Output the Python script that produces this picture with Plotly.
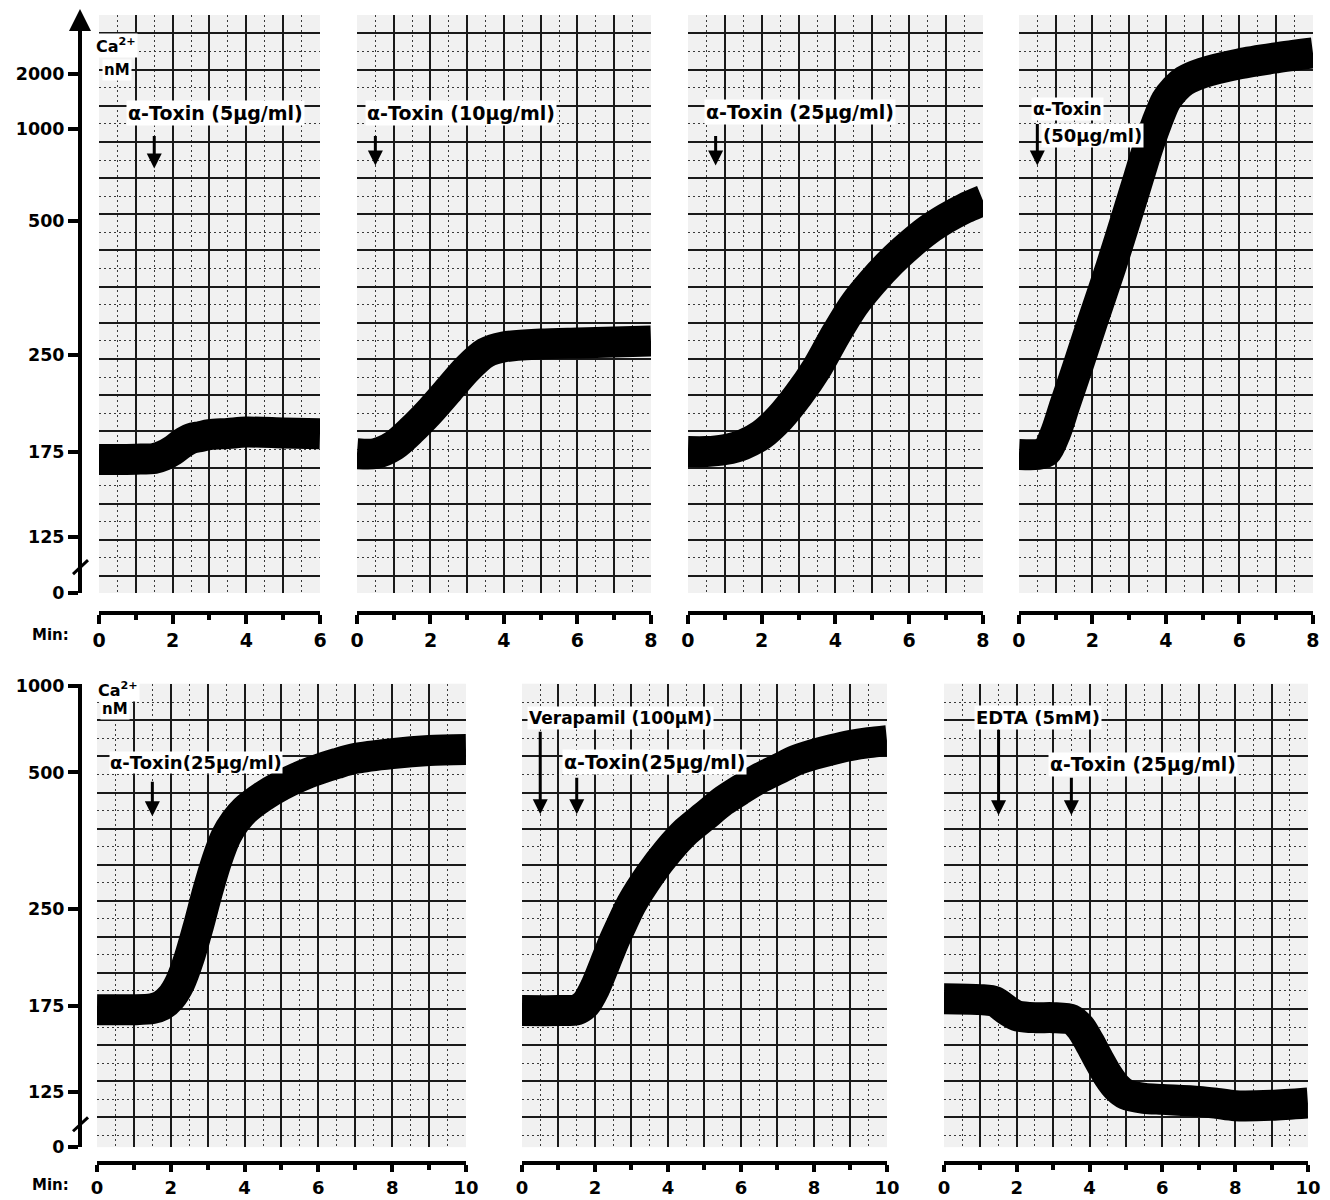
import plotly.graph_objects as go

W, H = 1330, 1200
# the page is photographed with a small white border; positions below are given in
# reference-picture pixels and converted to paper fractions here
OFF_X, OFF_Y, SX, SY = 7.0, 7.0, 0.985, 0.9883

def px(x):
    return ((x - OFF_X) / SX) / W

def py(y):
    return 1 - ((y - OFF_Y) / SY) / H

# ---------------- data (y = chart divisions above the Ca2+ = 0 baseline) ----------------
ca_labels_top = ["0", "125", "175", "250", "500", "1000", "2000"]
ca_div_top = [0, 3.09, 7.82, 13.17, 20.55, 25.67, 28.71]
ca_labels_bot = ["0", "125", "175", "250", "500", "1000"]
ca_div_bot = [0, 3.04, 7.85, 13.2, 20.77, 25.58]

p1_t = [0, 0.5, 1, 1.5, 1.75, 2, 2.25, 2.5, 2.75, 3, 3.5, 4, 5, 6]
p1_y = [7.38, 7.38, 7.40, 7.44, 7.60, 7.88, 8.26, 8.54, 8.65, 8.76, 8.82, 8.90, 8.85, 8.80]

p2_t = [0, 0.5, 1, 1.5, 2, 2.5, 3, 3.5, 4, 5, 6, 7, 8]
p2_y = [7.71, 7.71, 8.15, 9.04, 10.08, 11.24, 12.40, 13.28, 13.61, 13.77, 13.83, 13.88, 13.94]

p3_t = [0, 0.5, 1, 1.5, 2, 2.5, 3, 3.5, 4, 4.5, 5, 5.5, 6, 6.5, 7, 7.5, 8]
p3_y = [7.82, 7.82, 7.93, 8.21, 8.76, 9.70, 10.96, 12.45, 14.27, 15.92, 17.19, 18.29,
        19.23, 20.06, 20.72, 21.27, 21.71]

p4_t = [0, 0.5, 0.75, 1, 1.25, 1.5, 1.75, 2, 2.5, 3, 3.25, 3.5, 3.75, 4, 4.25, 4.5, 5, 6, 7, 8]
p4_y = [7.66, 7.66, 7.82, 8.87, 10.41, 11.90, 13.44, 14.99, 18.02, 21.27, 22.92, 24.57,
        26.01, 27.22, 27.88, 28.32, 28.76, 29.26, 29.59, 29.86]

p5_t = [0, 1, 1.5, 1.75, 2, 2.25, 2.5, 2.75, 3, 3.25, 3.5, 3.75, 4, 4.5, 5, 5.5, 6, 6.5, 7, 8, 9, 10]
p5_y = [7.62, 7.62, 7.68, 7.85, 8.29, 9.12, 10.50, 12.27, 14.20, 15.91, 17.24, 18.07,
        18.67, 19.45, 20.06, 20.55, 20.94, 21.27, 21.55, 21.82, 21.99, 22.04]

p6_t = [0, 1, 1.5, 1.75, 2, 2.25, 2.5, 2.75, 3, 3.5, 4, 4.5, 5, 5.5, 6, 6.5, 7, 7.5, 8, 8.5, 9, 9.5, 10]
p6_y = [7.57, 7.57, 7.62, 7.96, 8.84, 10.06, 11.33, 12.43, 13.48, 15.08, 16.41, 17.51,
        18.34, 19.17, 19.83, 20.44, 20.94, 21.44, 21.77, 22.04, 22.27, 22.43, 22.54]

p7_t = [0, 1, 1.4, 1.75, 2, 2.5, 3, 3.5, 3.75, 4, 4.25, 4.5, 4.75, 5, 5.5, 6, 7, 7.5, 8, 9, 10]
p7_y = [8.23, 8.18, 8.07, 7.57, 7.29, 7.18, 7.18, 7.07, 6.63, 5.80, 4.86, 3.98, 3.31,
        2.93, 2.71, 2.65, 2.54, 2.43, 2.30, 2.32, 2.45]

# additions (minutes)
p1_add = [1.5]
p2_add = [0.5]
p3_add = [0.75]
p4_add = [0.5]
p5_add = [1.5]
p6_add = [0.5, 1.5]
p7_add = [1.5, 3.5]

# ---------------- layout geometry (reference pixels) ----------------
rows = [
    dict(top=14, bottom=594, rng=31.96, grid0=0.94, xline=614, yline=80, ticklen=9,
         tfs=19, tickvals=ca_div_top, ticktext=ca_labels_top),
    dict(top=685, bottom=1150, rng=25.69, grid0=1.66, xline=1166, yline=80, ticklen=7,
         tfs=18, tickvals=ca_div_bot, ticktext=ca_labels_bot),
]

panels = [
    dict(t=p1_t, y=p1_y, l=99, r=320, xmax=6, row=0),
    dict(t=p2_t, y=p2_y, l=357, r=651, xmax=8, row=0),
    dict(t=p3_t, y=p3_y, l=688, r=983, xmax=8, row=0),
    dict(t=p4_t, y=p4_y, l=1019, r=1313, xmax=8, row=0),
    dict(t=p5_t, y=p5_y, l=97, r=466, xmax=10, row=1),
    dict(t=p6_t, y=p6_y, l=522, r=887, xmax=10, row=1),
    dict(t=p7_t, y=p7_y, l=944, r=1308, xmax=10, row=1),
]

FONT = "DejaVu Sans"
GRID = "#1a1a1a"
GRID2 = "#3a3a3a"

fig = go.Figure()
layout = dict(width=W, height=H, margin=dict(l=0, r=0, t=0, b=0),
              paper_bgcolor="white", plot_bgcolor="#f1f1f1", showlegend=False)

def ax_name(prefix, i):
    return prefix if i == 1 else f"{prefix}{i}"

def ref(prefix, i):
    return prefix[0] if i == 1 else f"{prefix[0]}{i}"

n = len(panels)
for k, p in enumerate(panels):
    i = k + 1
    row = rows[p["row"]]
    xd = [px(p["l"]), px(p["r"])]
    yd = [py(row["bottom"]), py(row["top"])]
    layout[ax_name("xaxis", i)] = dict(
        domain=xd, range=[0, p["xmax"]], anchor=ref("y", i),
        showgrid=True, gridcolor=GRID, gridwidth=1.6, tick0=0, dtick=1,
        minor=dict(tick0=0, dtick=0.5, showgrid=True, gridcolor=GRID2,
                   gridwidth=1, griddash="2px,3px"),
        showticklabels=False, ticks="", zeroline=False, showline=False, fixedrange=True)
    layout[ax_name("yaxis", i)] = dict(
        domain=yd, range=[0, row["rng"]], anchor=ref("x", i),
        showgrid=True, gridcolor=GRID, gridwidth=1.6, tick0=row["grid0"], dtick=2,
        minor=dict(tick0=row["grid0"], dtick=1, showgrid=True, gridcolor=GRID2,
                   gridwidth=1, griddash="2px,3px"),
        showticklabels=False, ticks="", zeroline=False, showline=False, fixedrange=True)
    fig.add_trace(go.Scatter(
        x=p["t"], y=p["y"], mode="lines", xaxis=ref("x", i), yaxis=ref("y", i),
        line=dict(color="black", width=31, shape="spline", smoothing=0.8),
        hoverinfo="skip"))
    j = n + i
    layout[ax_name("xaxis", j)] = dict(
        overlaying=ref("x", i), anchor="free", position=py(row["xline"]),
        range=[0, p["xmax"]], tickmode="linear", tick0=0, dtick=2,
        ticks="outside", ticklen=row["ticklen"], tickwidth=4, tickcolor="black",
        showline=True, linewidth=4, linecolor="black", showgrid=False, zeroline=False,
        minor=dict(tick0=0, dtick=1, ticks="outside", ticklen=5, tickwidth=4,
                   tickcolor="black", showgrid=False),
        tickfont=dict(family=FONT, size=row["tfs"], color="black", weight="bold"),
        fixedrange=True)
    fig.add_trace(go.Scatter(x=[None], y=[None], xaxis=ref("x", j), yaxis=ref("y", i),
                             hoverinfo="skip", showlegend=False))

for r_idx, (row, main) in enumerate(zip(rows, [1, 5])):
    j = 2 * n + 1 + r_idx
    layout[ax_name("yaxis", j)] = dict(
        overlaying=ref("y", main), anchor="free", position=px(row["yline"]), side="left",
        range=[0, row["rng"]], tickmode="array", tickvals=row["tickvals"],
        ticktext=row["ticktext"], ticks="outside", ticklen=10, tickwidth=4,
        tickcolor="black", showline=True, linewidth=4, linecolor="black",
        showgrid=False, zeroline=False,
        tickfont=dict(family=FONT, size=17.5, color="black", weight="bold"),
        fixedrange=True)
    fig.add_trace(go.Scatter(x=[None], y=[None], xaxis=ref("x", main), yaxis=ref("y", j),
                             hoverinfo="skip", showlegend=False))

fig.update_layout(**layout)

def label(text, x, y, size=18, xanchor="center", pad=1):
    fig.add_annotation(text=text, x=px(x), y=py(y), xref="paper", yref="paper",
                       showarrow=False, xanchor=xanchor, yanchor="middle",
                       font=dict(family=FONT, size=size, color="black", weight="bold"),
                       bgcolor="white", borderpad=pad)

def down_arrow(panel, t, tail, tip):
    fig.add_annotation(text="", x=t, y=py(tip), xref=ref("x", panel), yref="paper",
                       showarrow=True, ax=0, ay=-(tip - tail), axref="pixel", ayref="pixel",
                       arrowhead=2, arrowsize=1, arrowwidth=3, arrowcolor="black")

label("α-Toxin (5μg/ml)", 216, 112, size=19)
label("α-Toxin (10μg/ml)", 461, 112, size=19)
label("α-Toxin (25μg/ml)", 800, 111, size=19)
label("α-Toxin", 1031, 108, size=17, xanchor="left")
label("(50μg/ml)", 1041, 135, xanchor="left")
label("α-Toxin(25μg/ml)", 196, 764, size=18, pad=0)
label("Verapamil (100μM)", 621, 719, size=17)
label("α-Toxin(25μg/ml)", 655, 764, size=19)
label("EDTA (5mM)", 1038, 719)
label("α-Toxin (25μg/ml)", 1143, 766, size=18.8)

down_arrow(1, p1_add[0], 134, 168)
down_arrow(2, p2_add[0], 134, 165)
down_arrow(3, p3_add[0], 134, 165)
down_arrow(4, p4_add[0], 122, 165)
down_arrow(5, p5_add[0], 782, 818)
down_arrow(6, p6_add[0], 732, 816)
down_arrow(6, p6_add[1], 778, 816)
down_arrow(7, p7_add[0], 730, 817)
down_arrow(7, p7_add[1], 778, 817)

label("Ca<sup>2+</sup>", 116, 45, size=16)
label("nM", 117, 69, size=15)
label("Ca<sup>2+</sup>", 118, 691, size=16)
label("nM", 115, 710, size=15)

for ym in (636, 1188):
    fig.add_annotation(text="Min:", x=px(71), y=py(ym), xref="paper", yref="paper",
                       showarrow=False, xanchor="right", yanchor="middle",
                       font=dict(family=FONT, size=15, color="black", weight="bold"))

fig.add_annotation(text="", x=px(80), y=py(8), xref="paper", yref="paper",
                   showarrow=True, ax=0, ay=28, arrowhead=2, arrowsize=1.1,
                   arrowwidth=4, arrowcolor="black")

for yb in (568, 1127):
    fig.add_shape(type="line", xref="paper", yref="paper",
                  x0=px(73), y0=py(yb + 7), x1=px(88), y1=py(yb - 7),
                  line=dict(color="black", width=3))

fig.write_html("out.html", config={"displayModeBar": False},
               post_script="document.body.style.margin='0';document.body.style.overflow='hidden';")
